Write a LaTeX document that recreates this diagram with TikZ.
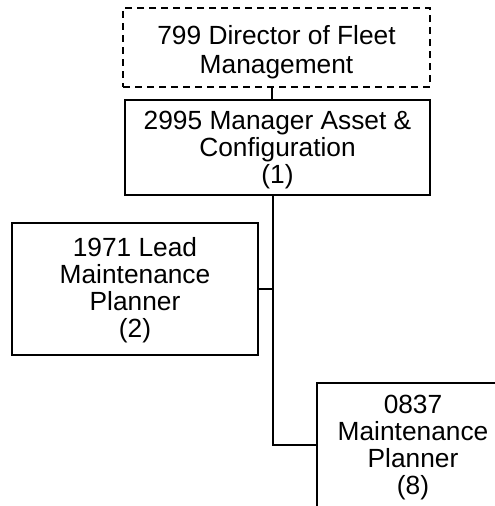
\documentclass[tikz,border=0pt]{standalone}
\usepackage{fontspec}
\setmainfont{Liberation Sans}
\newcommand\lowtext[2]{\raisebox{-#1}[\height][\depth]{\begin{tabular}{@{}c@{}}#2\end{tabular}}}
\begin{document}
\begin{tikzpicture}[x=1pt,y=-1pt,
  box/.style={draw=black,line width=1.6pt,fill=white,inner sep=0pt,align=center,
    font=\fontsize{26.3}{26.5}\selectfont},
  link/.style={draw=black,line width=1.6pt}]
\useasboundingbox (0,0) rectangle (495,506);
\clip (0,0) rectangle (495,506);
\node[box,dash pattern=on 7pt off 5pt,minimum width=307pt,minimum height=79pt] (dir) at (276.5,47.5) {\lowtext{6pt}{799 Director of Fleet\\[2pt]Management}};
\node[box,minimum width=305pt,minimum height=95pt] (mgr) at (277.5,147.5) {\lowtext{4pt}{2995 Manager Asset \&\\Configuration\\(1)}};
\node[box,minimum width=246pt,minimum height=132pt] (lead) at (135,289) {\lowtext{2pt}{1971 Lead\\Maintenance\\Planner\\(2)}};
\node[box,minimum width=192pt,minimum height=132pt] (plan) at (413,449) {\lowtext{0pt}{0837\\Maintenance\\Planner\\(8)}};
\coordinate (j1) at (273,289);
\coordinate (j2) at (273,445);
\draw[link] (dir.south -| 272,0) -- (mgr.north -| 272,0);
\draw[link] (mgr.south -| j1) -- (j1) -- (j2) -- (j2 -| plan.west);
\draw[link] (lead.east |- j1) -- (j1);
\end{tikzpicture}
\end{document}
